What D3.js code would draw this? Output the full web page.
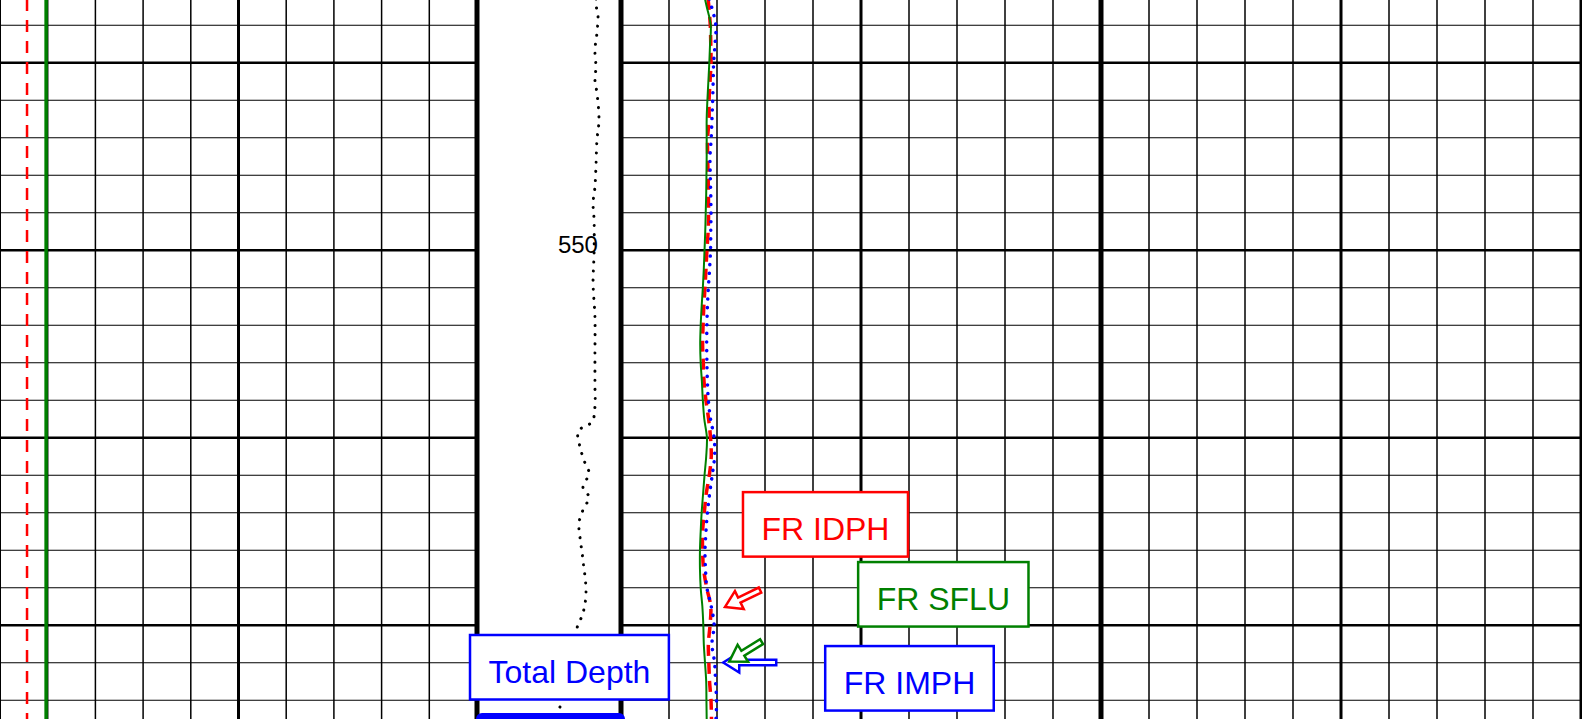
<!DOCTYPE html>
<html>
<head>
<meta charset="utf-8">
<script src="https://cdn.jsdelivr.net/npm/d3@7"></script>
<style>
  html, body { margin: 0; padding: 0; background: #fff; overflow: hidden; }
  svg { display: block; font-family: "Liberation Sans", Arial, sans-serif; }
</style>
</head>
<body>
<svg id="log" width="1582" height="719"></svg>
<script>
// Depth samples (ft) shared by the resistivity curves
const depths = [536.6, 537, 538, 539, 540, 541, 542, 543, 544, 545, 546, 547, 548, 549,
  550, 551, 552, 553, 554, 555, 556, 557, 558, 559, 560, 561, 562, 563, 564, 565,
  566, 567, 568, 569, 570, 571, 572, 573, 574, 575];

// Resistivity curves (track 2)
const sflu = [3.50, 3.57, 3.74, 3.71, 3.68, 3.64, 3.60, 3.57, 3.57, 3.57, 3.56, 3.55, 3.53, 3.51,
  3.48, 3.45, 3.41, 3.36, 3.32, 3.30, 3.32, 3.37, 3.41, 3.47, 3.58, 3.55, 3.48, 3.42, 3.36, 3.32,
  3.29, 3.29, 3.32, 3.39, 3.43, 3.45, 3.50, 3.55, 3.56, 3.57];
const idph = [3.63, 3.66, 3.72, 3.74, 3.75, 3.71, 3.67, 3.67, 3.61, 3.61, 3.63, 3.64, 3.65, 3.63,
  3.58, 3.54, 3.50, 3.45, 3.42, 3.40, 3.43, 3.46, 3.54, 3.65, 3.73, 3.76, 3.68, 3.55, 3.47, 3.40,
  3.40, 3.44, 3.57, 3.74, 3.71, 3.64, 3.66, 3.69, 3.75, 3.77];
const imph = [3.68, 3.77, 3.95, 3.92, 3.86, 3.84, 3.82, 3.79, 3.76, 3.71, 3.72, 3.74, 3.75, 3.74,
  3.73, 3.69, 3.64, 3.60, 3.58, 3.57, 3.58, 3.60, 3.64, 3.73, 3.88, 3.90, 3.80, 3.69, 3.60, 3.54,
  3.50, 3.52, 3.58, 3.76, 3.88, 3.79, 3.90, 3.94, 3.98, 3.96];

// Track 1 curves (flat over this interval)
const track1Depths = [536.6, 575];
const grValues = [14.5, 14.5];
const spValues = [8.5, 8.5];

// Dotted curve inside the depth track
const tensDepths = [536.6, 536.92, 537.45, 538.41, 539.32, 540.23, 540.92, 541.61, 543.05, 544.12,
  545.56, 546.63, 547.48, 548.39, 550.15, 551.75, 553.56, 555.69, 557.19, 558.36, 559.16, 559.43,
  559.69, 560.49, 561.35, 561.88, 562.68, 563.16, 563.85, 564.55, 565.29, 566.52, 568.28, 569.35,
  570.15, 571.32, 572.92, 574.36, 575.0];
const tensValues = [8.26, 8.26, 8.40, 8.33, 8.19, 8.26, 8.19, 8.33, 8.47, 8.33,
  8.26, 8.19, 8.06, 8.13, 8.13, 8.06, 8.19, 8.19, 8.19, 8.19, 7.99, 7.36,
  7.01, 7.15, 7.50, 7.78, 7.36, 7.78, 7.36, 7.08, 7.15, 7.36, 7.57, 7.36,
  6.94, 6.60, 6.18, 5.76, 5.56];

const depthLabels = [550];
const totalDepth = 575;
const curveNames = ["FR IDPH", "FR SFLU", "FR IMPH"];
const tdText = "Total Depth";

const svg = d3.select("#log"),
  width = +svg.attr("width"),
  height = +svg.attr("height");

// Scales
const y = d3.scaleLinear().domain([536.653, 575]).range([0, height]);
const x1 = d3.scaleLinear().domain([0, 150]).range([0, 477]);
const xD = d3.scaleLinear().domain([0, 10]).range([477, 621]);
const x2 = d3.scaleLinear().domain([0, 20]).range([621, 1101]);
const x3 = d3.scaleLinear().domain([0, 20]).range([1101, 1581]);

const grid = svg.append("g").attr("class", "grid");

// horizontal lines: every 2 ft, heavier every 10 ft
const hDepths = d3.range(538, 575, 2);
[[0, 477], [621, width]].forEach(([a, b]) => {
  grid.selectAll(null)
    .data(hDepths)
    .enter()
    .append("line")
    .attr("x1", a).attr("x2", b)
    .attr("y1", d => y(d)).attr("y2", d => y(d))
    .attr("stroke", "#000")
    .attr("stroke-width", d => d % 10 === 0 ? 2.5 : 1.2);
});

// vertical lines of each track
function vLines(scale, step) {
  const [d0, d1] = scale.domain();
  const vals = d3.range(d0, d1 + step / 2, step);
  grid.selectAll(null)
    .data(vals.slice(1, -1))
    .enter()
    .append("line")
    .attr("x1", d => scale(d)).attr("x2", d => scale(d))
    .attr("y1", 0).attr("y2", height)
    .attr("stroke", "#000")
    .attr("stroke-width", (d, i) => i === 4 ? 3 : 1.5);
}
vLines(x1, 15);
vLines(x2, 2);
vLines(x3, 2);

// track borders
[0, 477, 621, 1101, 1581].forEach((bx, i) => {
  grid.append("line")
    .attr("x1", bx).attr("x2", bx)
    .attr("y1", 0).attr("y2", height)
    .attr("stroke", "#000")
    .attr("stroke-width", i === 0 ? 2 : (i === 4 ? 3 : 5));
});

// depth label
svg.selectAll(".depth-label")
  .data(depthLabels)
  .enter()
  .append("text")
  .attr("class", "depth-label")
  .attr("x", xD(8.4))
  .attr("y", d => y(d) + 3)
  .attr("text-anchor", "end")
  .attr("font-size", 24)
  .attr("fill", "#000")
  .text(d => d);

// curves
function drawCurve(ds, vs, xs, color, w, dash) {
  const line = d3.line()
    .x((d, i) => xs(vs[i]))
    .y(d => y(d))
    .curve(d3.curveCatmullRom);
  svg.append("path")
    .datum(ds)
    .attr("d", line)
    .attr("fill", "none")
    .attr("stroke", color)
    .attr("stroke-width", w)
    .attr("stroke-linecap", dash && dash.startsWith("0") ? "round" : "butt")
    .attr("stroke-dasharray", dash || null);
}

drawCurve(track1Depths, spValues, x1, "#ff0000", 2.5, "12,9");
drawCurve(track1Depths, grValues, x1, "#008000", 3.5, null);
drawCurve(tensDepths, tensValues, xD, "#000", 3, "0.1,9");
drawCurve(depths, idph, x2, "#ff0000", 3.5, "11,7");
drawCurve(depths, sflu, x2, "#008000", 2, null);
drawCurve(depths, imph, x2, "#0000ff", 3.5, "0.1,8.5");

// total depth bar
svg.append("line")
  .attr("x1", xD(0) + 5).attr("x2", xD(10) - 2)
  .attr("y1", y(totalDepth)).attr("y2", y(totalDepth))
  .attr("stroke", "#0000ff")
  .attr("stroke-width", 12)
  .attr("stroke-linecap", "round");

// hollow arrows pointing at the curves
function arrow(tx, ty, angle, len, color) {
  const hl = 16, hw = 10, sw = 2.8;
  const pts = [[0, 0], [hl, -hw], [hl, -sw], [len, -sw], [len, sw], [hl, sw], [hl, hw]];
  svg.append("path")
    .attr("d", "M" + pts.map(p => p.join(",")).join("L") + "Z")
    .attr("transform", `translate(${tx},${ty}) rotate(${angle})`)
    .attr("fill", "#fff")
    .attr("stroke", color)
    .attr("stroke-width", 2.5)
    .attr("stroke-linejoin", "miter");
}
arrow(x2(4.33), y(569.03), -25.9, 39, "#ff0000");
arrow(x2(4.26), y(571.99), 0, 53, "#0000ff");
arrow(x2(4.51), y(571.94), -31.7, 38, "#008000");

// labelled boxes
function labelBox(text, cx, top, color) {
  const g = svg.append("g");
  const rect = g.append("rect");
  const t = g.append("text")
    .attr("x", cx)
    .attr("y", top + 47.5)
    .attr("text-anchor", "middle")
    .attr("font-size", 32)
    .attr("fill", color)
    .text(text);
  const w = t.node().getBBox().width + 37;
  rect.attr("x", cx - w / 2).attr("y", top)
    .attr("width", w).attr("height", 64.5)
    .attr("fill", "#fff")
    .attr("stroke", color)
    .attr("stroke-width", 2.5);
}
labelBox(curveNames[0], x2(8.52), y(562.9), "#ff0000");
labelBox(curveNames[1], x2(13.43), y(566.63), "#008000");
labelBox(curveNames[2], x2(12.02), y(571.11), "#0000ff");
labelBox(tdText, xD(6.42), y(570.52), "#0000ff");
</script>
</body>
</html>
